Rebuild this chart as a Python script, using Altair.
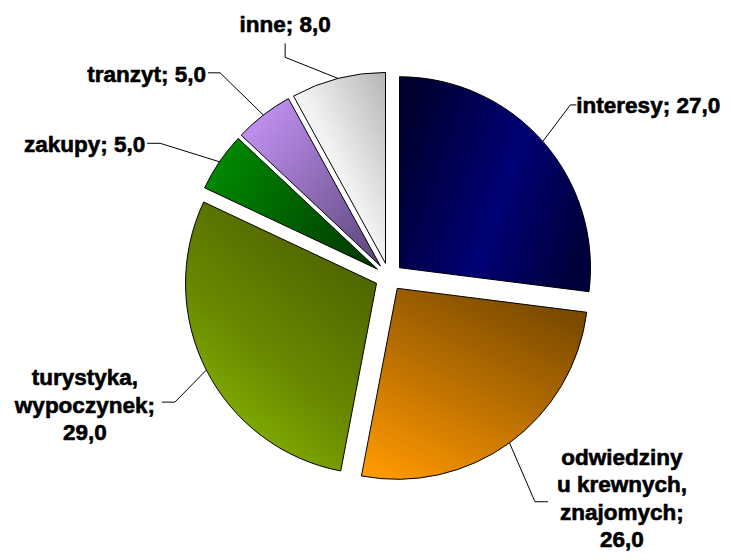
import altair as alt
import pandas as pd

# ---- data ----
categories = ["interesy", "odwiedziny u krewnych, znajomych", "turystyka, wypoczynek",
              "zakupy", "tranzyt", "inne"]
values = [27.0, 26.0, 29.0, 5.0, 5.0, 8.0]
label_names = ["interesy;", "odwiedziny\nu krewnych,\nznajomych;", "turystyka,\nwypoczynek;",
               "zakupy;", "tranzyt;", "inne;"]
label_seps = [" ", "\n", "\n", " ", " ", " "]

# ---- style / layout ----
W, H = 715, 544
CX, CY = 381, 269          # pie centre (pixels)
R = 191                    # pie radius
EXPLODE = 14               # explode distance
FONT = "Liberation Sans"

gradients = {
    "interesy": dict(x1=0, y1=0.3, x2=1, y2=0.7,
                     stops=[(0, "#000030"), (0.55, "#000074"), (1, "#00003A")]),
    "odwiedziny u krewnych, znajomych": dict(x1=0.1, y1=1, x2=0.7, y2=0,
                     stops=[(0, "#FF9900"), (0.45, "#C27400"), (1, "#7A4A00")]),
    "turystyka, wypoczynek": dict(x1=0.1, y1=1, x2=0.7, y2=0,
                     stops=[(0, "#8FC400"), (0.45, "#6A8A00"), (1, "#4A5E00")]),
    "zakupy": dict(x1=0, y1=0.3, x2=1, y2=0.8,
                   stops=[(0, "#008A00"), (1, "#003A00")]),
    "tranzyt": dict(x1=0, y1=0, x2=1, y2=1,
                    stops=[(0, "#CC99FF"), (1, "#5A4478")]),
    "inne": dict(x1=0, y1=1, x2=1, y2=0,
                 stops=[(0, "#FFFFFF"), (0.5, "#F2F2F2"), (1, "#B5B5B5")]),
}

# label leader layout: elbow in polar coords around pie centre, then a short leg,
# then text offset from the leg end
label_layout = {
    "interesy": dict(ea=46.5, er=250, lgx=6, lgy=0, tdx=0, tdy=8, align="left"),
    "odwiedziny u krewnych, znajomych": dict(ea=147.0, er=268, lgx=13, lgy=0, tdx=74, tdy=-37, align="center"),
    "turystyka, wypoczynek": dict(ea=239.7, er=248, lgx=-13, lgy=0, tdx=-77, tdy=-17, align="center"),
    "zakupy": dict(ea=300.3, er=265, lgx=-13, lgy=0, tdx=-2, tdy=9, align="right"),
    "tranzyt": dict(ea=320.4, er=265, lgx=-12, lgy=0, tdx=-2, tdy=9, align="right"),
    "inne": dict(ea=334.7, er=243, lgx=0, lgy=-14, tdx=0, tdy=-11, align="center"),
}

def fmt(v):
    return f"{v:.1f}".replace(".", ",")

rows = []
for i, (c, v, n, s) in enumerate(zip(categories, values, label_names, label_seps)):
    lay = label_layout[c]
    rows.append(dict(order=i, cat=c, value=v, label=n + s + fmt(v), **lay))
df = pd.DataFrame(rows)

base = alt.Chart(df)

xs = lambda f: alt.X(f + ":Q", scale=None, axis=None)
ys = lambda f: alt.Y(f + ":Q", scale=None, axis=None)

layers = []
for c in categories:
    g = gradients[c]
    grad = alt.Gradient(gradient="linear", x1=g["x1"], y1=g["y1"], x2=g["x2"], y2=g["y2"],
                        stops=[alt.GradientStop(offset=o, color=col) for o, col in g["stops"]])
    layers.append(
        base.transform_filter(alt.datum.cat == c)
        .mark_arc(radius=R, fill=grad, stroke="black", strokeWidth=1)
        .encode(x=xs("sx"), y=ys("sy"),
                theta=alt.Theta("t0:Q", scale=None), theta2=alt.Theta2("t1:Q"))
    )

lead1 = base.mark_rule(color="black", strokeWidth=1).encode(
    x=xs("ax"), y=ys("ay"), x2=alt.X2("ex:Q"), y2=alt.Y2("ey:Q"))
lead2 = base.mark_rule(color="black", strokeWidth=1).encode(
    x=xs("ex"), y=ys("ey"), x2=alt.X2("lx:Q"), y2=alt.Y2("ly:Q"))
layers += [lead1, lead2]

for al in ["left", "center", "right"]:
    layers.append(
        base.transform_filter(alt.datum.align == al)
        .mark_text(align=al, baseline="alphabetic", lineBreak="\n", lineHeight=27.5,
                   font=FONT, fontSize=22.5, fontWeight="bold", color="black",
                   stroke="black", strokeWidth=0.6)
        .encode(x=xs("tx"), y=ys("ty"), text="label:N")
    )

chart = (
    alt.layer(*layers)
    .transform_joinaggregate(total="sum(value)")
    .transform_window(cum="sum(value)", sort=[alt.SortField("order")], frame=[None, 0])
    .transform_calculate(
        t1="2*PI*datum.cum/datum.total",
        t0="2*PI*(datum.cum-datum.value)/datum.total",
    )
    .transform_calculate(mid="(datum.t0+datum.t1)/2")
    .transform_calculate(
        sx=f"{CX}+{EXPLODE}*sin(datum.mid)",
        sy=f"{CY}-{EXPLODE}*cos(datum.mid)",
        ex=f"{CX}+datum.er*sin(datum.ea*PI/180)",
        ey=f"{CY}-datum.er*cos(datum.ea*PI/180)",
    )
    .transform_calculate(
        ax=f"datum.sx+{R}*sin(datum.mid)",
        ay=f"datum.sy-{R}*cos(datum.mid)",
        lx="datum.ex+datum.lgx",
        ly="datum.ey+datum.lgy",
    )
    .transform_calculate(tx="datum.lx+datum.tdx", ty="datum.ly+datum.tdy")
    .properties(width=W, height=H, autosize="none", padding=0, background="white")
    .configure_view(stroke=None)
)

chart.save("out.html", embed_options={"renderer": "svg", "actions": False})
